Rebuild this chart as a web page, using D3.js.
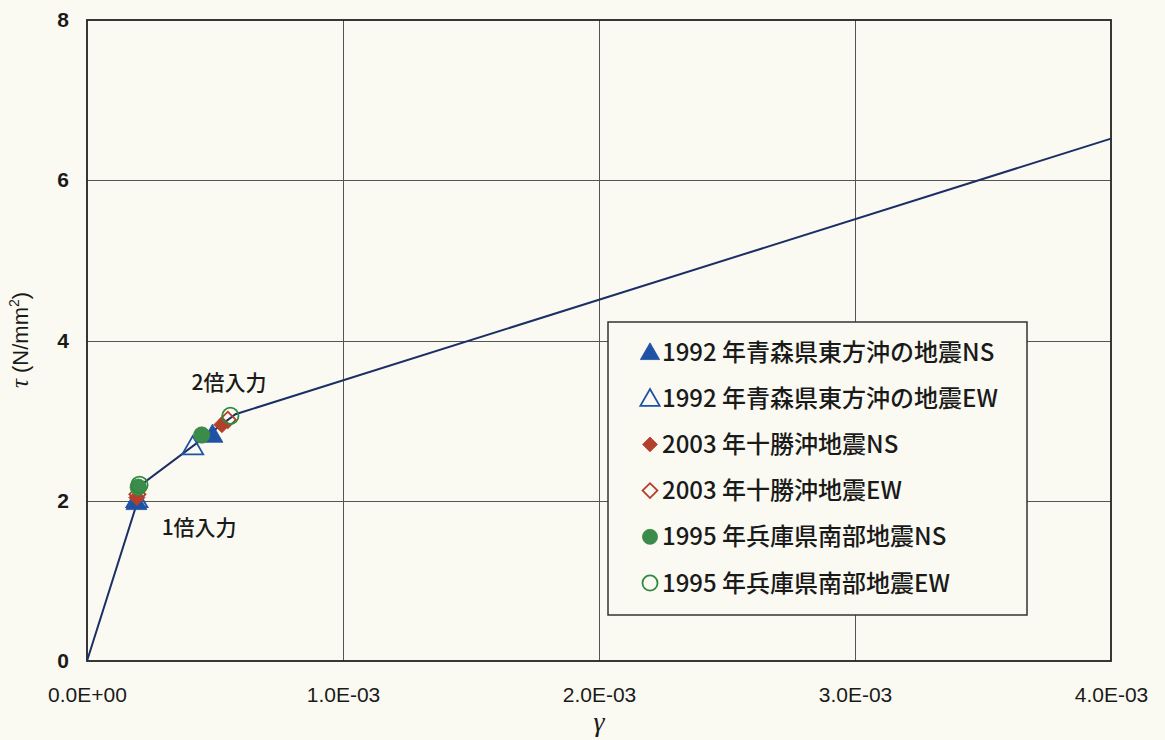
<!DOCTYPE html>
<html>
<head>
<meta charset="utf-8">
<script src="https://cdn.jsdelivr.net/npm/d3@7"></script>
<style>
  html, body { margin: 0; padding: 0; background: #fbfaf2; }
  svg { display: block; }
</style>
</head>
<body>
<svg id="chart" width="1165" height="740"></svg>
<script>
// Trilinear skeleton curve (shear strain γ, shear stress τ in N/mm²)
const curveGamma = [0, 0.22e-3, 0.58e-3, 4.0e-3];
const curveTau   = [0, 2.22, 3.08, 6.52];

// Response points for each record, 1x and 2x input levels
const seriesNames = [
  "1992 年青森県東方沖の地震NS",
  "1992 年青森県東方沖の地震EW",
  "2003 年十勝沖地震NS",
  "2003 年十勝沖地震EW",
  "1995 年兵庫県南部地震NS",
  "1995 年兵庫県南部地震EW"
];
const seriesGamma = [
  [0.193e-3, 0.490e-3],
  [0.195e-3, 0.413e-3],
  [0.195e-3, 0.527e-3],
  [0.197e-3, 0.550e-3],
  [0.200e-3, 0.448e-3],
  [0.205e-3, 0.560e-3]
];
const seriesTau = [
  [1.99, 2.83],
  [2.02, 2.68],
  [2.04, 2.95],
  [2.08, 3.01],
  [2.17, 2.82],
  [2.20, 3.06]
];
const seriesShape  = ["triangle", "triangle", "diamond", "diamond", "circle", "circle"];
const seriesFilled = [true, false, true, false, true, false];
const seriesColor  = ["#1f52a3", "#1f52a3", "#b3402c", "#b3402c", "#3b8c4a", "#2f8a3e"];

// Axis ticks
const xTicks = [0, 1e-3, 2e-3, 3e-3, 4e-3];
const xTickLabels = ["0.0E+00", "1.0E-03", "2.0E-03", "3.0E-03", "4.0E-03"];
const yTicks = [0, 2, 4, 6, 8];

// Annotations
const notes = [
  { text: "2倍入力", gamma: 0.555e-3, tau: 3.38 },
  { text: "1倍入力", gamma: 0.438e-3, tau: 1.57 }
];

const svg = d3.select("#chart");
const plot = { left: 87, top: 20, right: 1111, bottom: 661 };

const x = d3.scaleLinear().domain([0, 4e-3]).range([plot.left, plot.right]);
const y = d3.scaleLinear().domain([0, 8]).range([plot.bottom, plot.top]);

const sans = "'Liberation Sans', Arial, sans-serif";
const cjk = "'Noto Sans CJK JP', sans-serif";
const serif = "'Liberation Serif', serif";

// gridlines
const grid = svg.append("g").attr("stroke", "#555").attr("stroke-width", 1);
grid.selectAll("line.v").data(xTicks.slice(1, -1)).join("line")
  .attr("x1", d => Math.round(x(d)) + 0.5).attr("x2", d => Math.round(x(d)) + 0.5)
  .attr("y1", plot.top).attr("y2", plot.bottom);
grid.selectAll("line.h").data(yTicks.slice(1, -1)).join("line")
  .attr("y1", d => Math.round(y(d)) + 0.5).attr("y2", d => Math.round(y(d)) + 0.5)
  .attr("x1", plot.left).attr("x2", plot.right);

// plot frame
svg.append("rect")
  .attr("x", plot.left).attr("y", plot.top)
  .attr("width", plot.right - plot.left).attr("height", plot.bottom - plot.top)
  .attr("fill", "none").attr("stroke", "#222").attr("stroke-width", 1.8);

// axes (labels only; the frame draws the lines)
const xAxis = d3.axisBottom(x).tickValues(xTicks)
  .tickFormat((d, i) => xTickLabels[i]).tickSize(0).tickPadding(26);
const gx = svg.append("g").attr("transform", `translate(0,${plot.bottom})`).call(xAxis);
gx.select(".domain").remove();
gx.attr("font-family", null).attr("font-size", null);
gx.selectAll("text")
  .style("font-family", sans).style("font-size", "21px").attr("fill", "#1a1a1a");

const yAxis = d3.axisLeft(y).tickValues(yTicks).tickFormat(d3.format("d"))
  .tickSize(0).tickPadding(18);
const gy = svg.append("g").attr("transform", `translate(${plot.left},0)`).call(yAxis);
gy.select(".domain").remove();
gy.attr("font-family", null).attr("font-size", null);
gy.selectAll("text")
  .style("font-family", sans).style("font-size", "21px").style("font-weight", "bold")
  .attr("fill", "#1a1a1a");

// axis titles
svg.append("text")
  .attr("x", (plot.left + plot.right) / 2).attr("y", 731)
  .attr("text-anchor", "middle")
  .style("font-family", serif).style("font-style", "italic")
  .style("font-size", "28px").attr("fill", "#1a1a1a").text("γ");

const yTitle = svg.append("text")
  .attr("transform", `translate(28,340) rotate(-90)`)
  .attr("text-anchor", "middle")
  .style("font-family", sans).style("font-size", "22px").attr("fill", "#1a1a1a");
yTitle.append("tspan").style("font-family", serif).style("font-style", "italic")
  .style("font-size", "25px").text("τ");
yTitle.append("tspan").text(" (N/mm");
yTitle.append("tspan").attr("dy", -9).style("font-size", "14px").text("2");
yTitle.append("tspan").attr("dy", 9).text(")");

// skeleton curve
const curveData = curveGamma.map((g, i) => [g, curveTau[i]]);
svg.append("path")
  .datum(curveData)
  .attr("d", d3.line().x(d => x(d[0])).y(d => y(d[1])))
  .attr("fill", "none").attr("stroke", "#1b2f66").attr("stroke-width", 2);

// marker symbols; the diamond is a square turned 45°
const symbolType = { triangle: d3.symbolTriangle, diamond: d3.symbolSquare, circle: d3.symbolCircle };
const symbolSize = { triangle: 190, diamond: 130, circle: 210 };

function drawMarker(g, shape, filled, color, cx, cy, scale = 1) {
  const sym = d3.symbol().type(symbolType[shape]).size(symbolSize[shape] * scale);
  const dy = shape === "triangle" ? 2 : 0;
  const rot = shape === "diamond" ? " rotate(45)" : "";
  g.append("path")
    .attr("d", sym())
    .attr("transform", `translate(${cx},${cy + dy})${rot}`)
    .attr("fill", filled ? color : "none")
    .attr("stroke", color)
    .attr("stroke-width", filled ? 0.8 : 1.8);
}

const markers = svg.append("g");
seriesNames.forEach((name, s) => {
  seriesGamma[s].forEach((g, i) => {
    drawMarker(markers, seriesShape[s], seriesFilled[s], seriesColor[s], x(g), y(seriesTau[s][i]));
  });
});

// annotations
svg.selectAll("text.note").data(notes).join("text")
  .attr("class", "note")
  .attr("x", d => x(d.gamma)).attr("y", d => y(d.tau))
  .attr("text-anchor", "middle")
  .style("font-family", cjk).style("font-weight", 500).style("font-size", "21px")
  .attr("fill", "#1a1a1a")
  .text(d => d.text);

// legend
const legend = svg.append("g").attr("transform", "translate(608,322)");
legend.append("rect")
  .attr("width", 419).attr("height", 293)
  .attr("fill", "#fbfaf2").attr("stroke", "#333").attr("stroke-width", 1.5);
const rowY = d3.scaleLinear().domain([0, 5]).range([30, 261]);
seriesNames.forEach((name, s) => {
  const ry = rowY(s);
  drawMarker(legend, seriesShape[s], seriesFilled[s], seriesColor[s], 42, ry, 0.85);
  legend.append("text")
    .attr("x", 54).attr("y", ry).attr("dy", "0.36em")
    .style("font-family", cjk).style("font-weight", 500).style("font-size", "24px")
    .attr("fill", "#1a1a1a")
    .text(name);
});
</script>
</body>
</html>
